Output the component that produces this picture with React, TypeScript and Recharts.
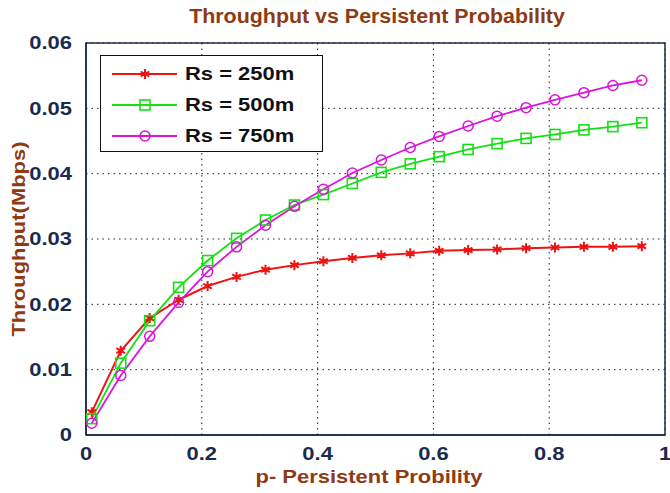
import React from "react";
import {
  LineChart,
  Line,
  XAxis,
  YAxis,
  CartesianGrid,
  ReferenceArea,
} from "recharts";

const pValues = [0.01, 0.06, 0.11, 0.16, 0.21, 0.26, 0.31, 0.36, 0.41, 0.46, 0.51, 0.56, 0.61, 0.66, 0.71, 0.76, 0.81, 0.86, 0.91, 0.96];
const rs250 = [0.0035, 0.0129, 0.0179, 0.0207, 0.0228, 0.0242, 0.0253, 0.026, 0.0266, 0.0271, 0.0275, 0.0278, 0.0282, 0.0283, 0.0284, 0.0286, 0.0287, 0.0288, 0.0288, 0.0289];
const rs500 = [0.0025, 0.011, 0.0175, 0.0226, 0.0267, 0.0301, 0.0329, 0.0352, 0.0368, 0.0385, 0.0402, 0.0415, 0.0426, 0.0437, 0.0446, 0.0454, 0.046, 0.0467, 0.0472, 0.0478];
const rs750 = [0.0018, 0.0091, 0.0151, 0.0203, 0.025, 0.0288, 0.0321, 0.035, 0.0376, 0.0401, 0.0421, 0.044, 0.0457, 0.0473, 0.0488, 0.0501, 0.0513, 0.0524, 0.0535, 0.0543];
const seriesNames = ["Rs = 250m", "Rs = 500m", "Rs = 750m"];
const xTicks = [0, 0.2, 0.4, 0.6, 0.8, 1];
const yTicks = [0, 0.01, 0.02, 0.03, 0.04, 0.05, 0.06];
const titleText = "Throughput vs Persistent Probability";
const xLabel = "p- Persistent Probility";
const yLabel = "Throughput(Mbps)";

const data = pValues.map((p, i) => ({ p, a: rs250[i], b: rs500[i], c: rs750[i] }));

const RED = "#ee1414";
const GREEN = "#14e014";
const MAG = "#dc14dc";
const AXIS = "#1c2a4e";
const BROWN = "#8e3a12";
const FONT = "'Liberation Sans', Arial, sans-serif";
const SX = 1.22;

const StarDot = (props: any) => {
  const { cx, cy, key } = props;
  if (cx == null || cy == null) return null;
  const r = 5;
  const d = [0, 60, 120].map((a) => {
    const rad = (a * Math.PI) / 180;
    const dx = r * Math.sin(rad);
    const dy = r * Math.cos(rad);
    return `M${cx - dx},${cy - dy}L${cx + dx},${cy + dy}`;
  }).join("");
  return (
    <g key={key}>
      <path d={d} stroke={RED} strokeWidth={2} />
      <circle cx={cx} cy={cy} r={2.2} fill={RED} />
    </g>
  );
};

const SquareDot = (props: any) => {
  const { cx, cy, key } = props;
  if (cx == null || cy == null) return null;
  return <rect key={key} x={cx - 5} y={cy - 5} width={10} height={10} fill="none" stroke={GREEN} strokeWidth={1.6} />;
};

const CircleDot = (props: any) => {
  const { cx, cy, key } = props;
  if (cx == null || cy == null) return null;
  return <circle key={key} cx={cx} cy={cy} r={5} fill="none" stroke={MAG} strokeWidth={1.5} />;
};

const legendItems = [
  { name: seriesNames[0], color: RED, Dot: StarDot },
  { name: seriesNames[1], color: GREEN, Dot: SquareDot },
  { name: seriesNames[2], color: MAG, Dot: CircleDot },
];

const LegendBox = () => (
  <div
    style={{
      position: "absolute",
      left: 100,
      top: 55,
      border: "1.5px solid #111",
      background: "#fff",
      width: 223,
      height: 97,
      boxSizing: "border-box",
      fontFamily: FONT,
    }}
  >
    {legendItems.map((it, i) => (
      <div key={it.name} style={{ position: "absolute", left: 0, top: 8 + i * 31, height: 20, width: 220 }}>
        <svg width={80} height={20} style={{ position: "absolute", left: 0, top: 0 }}>
          <line x1={11} y1={10} x2={76} y2={10} stroke={it.color} strokeWidth={2} />
          {it.Dot({ cx: 44, cy: 10 })}
        </svg>
        <span
          style={{
            position: "absolute",
            left: 84,
            top: -1,
            fontSize: 18,
            lineHeight: "22px",
            fontWeight: "bold",
            color: "#111",
            whiteSpace: "nowrap",
            transform: `scaleX(${SX})`,
            transformOrigin: "left center",
          }}
        >
          {it.name}
        </span>
      </div>
    ))}
  </div>
);

const fmtY = (v: number) => (v === 0 ? "0" : v.toFixed(2));
const fmtX = (v: number) => (v === 0 ? "0" : v === 1 ? "1" : String(v));

const YTick = (props: any) => {
  const { x, y, payload } = props;
  return (
    <text
      transform={`translate(${x - 6},${y}) scale(${SX},1)`}
      textAnchor="end"
      dominantBaseline="central"
      fill={AXIS}
      fontSize={18}
      fontWeight="bold"
      fontFamily={FONT}
    >
      {fmtY(payload.value)}
    </text>
  );
};

const XTick = (props: any) => {
  const { x, y, payload } = props;
  return (
    <text
      transform={`translate(${x},${y + 11}) scale(${SX},1)`}
      textAnchor="middle"
      dominantBaseline="central"
      fill={AXIS}
      fontSize={18}
      fontWeight="bold"
      fontFamily={FONT}
    >
      {fmtX(payload.value)}
    </text>
  );
};

export default function App() {
  return (
    <div style={{ position: "absolute", left: 0, top: 0, width: 670, height: 493, background: "#fff" }}>
      <div
        style={{
          position: "absolute",
          left: 377,
          top: 5,
          transform: "translateX(-50%) scaleX(1.07)",
          whiteSpace: "nowrap",
          fontFamily: FONT,
          fontWeight: "bold",
          fontSize: 20,
          color: BROWN,
        }}
      >
        {titleText}
      </div>
      <div
        style={{
          position: "absolute",
          left: 369,
          top: 467,
          transform: `translateX(-50%) scaleX(${SX})`,
          whiteSpace: "nowrap",
          fontFamily: FONT,
          fontWeight: "bold",
          fontSize: 18,
          color: BROWN,
        }}
      >
        {xLabel}
      </div>
      <div
        style={{
          position: "absolute",
          left: 19,
          top: 239,
          transform: `translate(-50%, -50%) rotate(-90deg) scaleX(${SX})`,
          whiteSpace: "nowrap",
          fontFamily: FONT,
          fontWeight: "bold",
          fontSize: 18,
          color: BROWN,
        }}
      >
        {yLabel}
      </div>
      <LineChart
        width={670}
        height={493}
        data={data}
        margin={{ top: 43, right: 5, left: 0, bottom: 0 }}
        style={{ position: "absolute", left: 0, top: 0 }}
      >
        <CartesianGrid stroke="#222" strokeDasharray="1.5 4" />
        <XAxis
          dataKey="p"
          type="number"
          domain={[0, 1]}
          ticks={xTicks}
          height={58}
          stroke={AXIS}
          strokeWidth={1.5}
          tickLine={false}
          tick={XTick}
        />
        <YAxis
          type="number"
          domain={[0, 0.06]}
          ticks={yTicks}
          width={86}
          stroke={AXIS}
          strokeWidth={1.5}
          tickLine={false}
          tick={YTick}
        />
        <ReferenceArea x1={0} x2={1} y1={0} y2={0.06} fill="none" stroke={AXIS} strokeWidth={1.5} ifOverflow="visible" />
        <Line dataKey="a" name={seriesNames[0]} stroke={RED} strokeWidth={2} dot={StarDot} isAnimationActive={false} />
        <Line dataKey="b" name={seriesNames[1]} stroke={GREEN} strokeWidth={1.8} dot={SquareDot} isAnimationActive={false} />
        <Line dataKey="c" name={seriesNames[2]} stroke={MAG} strokeWidth={1.8} dot={CircleDot} isAnimationActive={false} />
      </LineChart>
      <LegendBox />
    </div>
  );
}
